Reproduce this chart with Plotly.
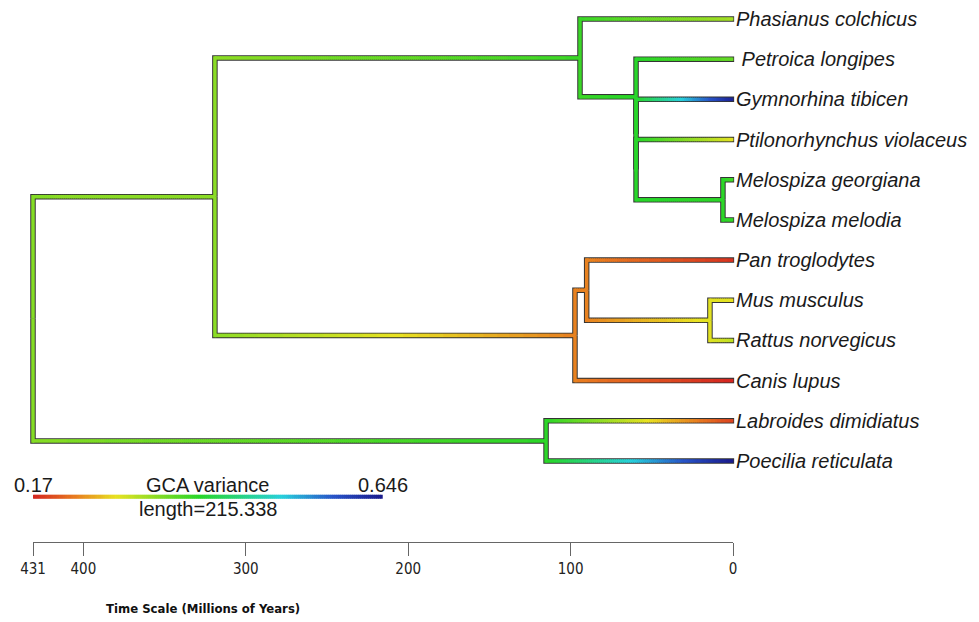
import numpy as np
import plotly.graph_objects as go

# ---------------- data ----------------
tip_labels = ["Phasianus colchicus", "\u00a0Petroica longipes", "Gymnorhina tibicen",
              "Ptilonorhynchus violaceus", "Melospiza georgiana", "Melospiza melodia",
              "Pan troglodytes", "Mus musculus", "Rattus norvegicus", "Canis lupus",
              "Labroides dimidiatus", "Poecilia reticulata"]
tip_gca = [0.322, 0.360, 0.636, 0.285, 0.379, 0.389,
           0.180, 0.284, 0.308, 0.170, 0.189, 0.646]

node_labels = ["root", "amniotes", "birds", "pass1", "pass2", "pass3", "melospiza",
               "mammals", "primates_rodents", "rodents", "fish"]
node_age = [431.0, 319.0, 94.2, 59.7, 59.7, 59.7, 6.2, 97.3, 90.1, 14.2, 115.1]
node_gca = [0.341, 0.337, 0.386, 0.398, 0.398, 0.398, 0.394, 0.230, 0.232, 0.289, 0.394]
node_children = [["amniotes", "fish"],
                 ["birds", "mammals"],
                 ["Phasianus colchicus", "pass1"],
                 ["\u00a0Petroica longipes", "pass2"],
                 ["Gymnorhina tibicen", "pass3"],
                 ["Ptilonorhynchus violaceus", "melospiza"],
                 ["Melospiza georgiana", "Melospiza melodia"],
                 ["primates_rodents", "Canis lupus"],
                 ["Pan troglodytes", "rodents"],
                 ["Mus musculus", "Rattus norvegicus"],
                 ["Labroides dimidiatus", "Poecilia reticulata"]]

gca_limits = [0.17, 0.646]
legend_title = "GCA variance"
legend_length = 215.338
axis_ticks = [431, 400, 300, 200, 100, 0]
axis_title = "Time Scale (Millions of Years)"

# colour ramp (rainbow red -> blue)
ramp_pos = [0.0, 0.12, 0.238, 0.476, 0.714, 0.86, 1.0]
ramp_rgb = [(212, 36, 32), (232, 122, 32), (232, 226, 34), (40, 214, 40),
            (40, 208, 220), (40, 84, 200), (26, 26, 140)]

# ---------------- tree layout ----------------
age = {n: a for n, a in zip(node_labels, node_age)}
gca = {n: v for n, v in zip(node_labels, node_gca)}
kids = {n: c for n, c in zip(node_labels, node_children)}
for t, v in zip(tip_labels, tip_gca):
    age[t] = 0.0
    gca[t] = v

ypos = {}
counter = [0]


def place(n):
    if n not in kids:
        ypos[n] = float(counter[0])
        counter[0] += 1
    else:
        for c in kids[n]:
            place(c)
        ypos[n] = float(np.mean([ypos[c] for c in kids[n]]))


place("root")

edges = [(p, c) for p in node_labels for c in kids[p]]


def ramp(f):
    f = min(max(f, 0.0), 1.0)
    for i in range(len(ramp_pos) - 1):
        if f <= ramp_pos[i + 1]:
            u = (f - ramp_pos[i]) / (ramp_pos[i + 1] - ramp_pos[i])
            a, b = ramp_rgb[i], ramp_rgb[i + 1]
            return "rgb(%d,%d,%d)" % tuple(round(a[k] + (b[k] - a[k]) * u) for k in range(3))
    return "rgb(%d,%d,%d)" % ramp_rgb[-1]


def frac(v):
    return (v - gca_limits[0]) / (gca_limits[1] - gca_limits[0])


NB = 120
px_per_myr = 700 / 431.0
tree_bins = {b: ([], []) for b in range(NB)}
leg_bins = {b: ([], []) for b in range(NB)}


def bin_of(f):
    return min(NB - 1, max(0, int(f * NB)))


ov = 0.25
outline_x, outline_y = [], []
for p, c in edges:
    t0, t1 = age[p], age[c]
    yp, yc = ypos[p], ypos[c]
    v0, v1 = gca[p], gca[c]
    tip_ext = 0.7 if c not in kids else 0.0
    outline_x += [t0, t0, t1 - tip_ext, None]
    outline_y += [yp, yc, yc, None]
    # vertical + corner in parent colour
    b = bin_of(frac(v0))
    tree_bins[b][0].extend([t0, t0, t0 - 0.8, None])
    tree_bins[b][1].extend([yp, yc, yc, None])
    nseg = max(2, int((t0 - t1) * px_per_myr / 2))
    for k in range(nseg):
        ta = t0 - (t0 - t1) * k / nseg
        tb = t0 - (t0 - t1) * (k + 1) / nseg
        vm = v0 + (v1 - v0) * (k + 0.5) / nseg
        b = bin_of(frac(vm))
        tree_bins[b][0].extend([ta + ov, max(tb - ov, t1 - 0.3), None])
        tree_bins[b][1].extend([yc, yc, None])

# legend bar
leg_y = 11.89
leg_x0 = 431.0
leg_x1 = 431.0 - legend_length
nleg = 175
for k in range(nleg):
    ta = leg_x0 - legend_length * k / nleg
    tb = leg_x0 - legend_length * (k + 1) / nleg
    b = bin_of((k + 0.5) / nleg)
    leg_bins[b][0].extend([ta + ov if k > 0 else ta, tb - ov if k < nleg - 1 else tb, None])
    leg_bins[b][1].extend([leg_y, leg_y, None])

fig = go.Figure()
fig.add_trace(go.Scatter(x=outline_x, y=outline_y, mode="lines",
                         line=dict(color="#343434", width=5.5),
                         hoverinfo="skip", showlegend=False))
for b in range(NB):
    xs, ys = tree_bins[b]
    if xs:
        fig.add_trace(go.Scatter(x=xs, y=ys, mode="lines",
                                 line=dict(color=ramp((b + 0.5) / NB), width=3.5),
                                 hoverinfo="skip", showlegend=False))
for b in range(NB):
    xs, ys = leg_bins[b]
    if xs:
        fig.add_trace(go.Scatter(x=xs, y=ys, mode="lines",
                                 line=dict(color=ramp((b + 0.5) / NB), width=4),
                                 hoverinfo="skip", showlegend=False))

# dummy trace for the time axis
fig.add_trace(go.Scatter(x=[431, 0], y=[20, 20], xaxis="x2", yaxis="y", mode="markers",
                         marker=dict(opacity=0), hoverinfo="skip", showlegend=False))

label_font = dict(family="Liberation Sans, Arial, sans-serif", size=20, color="#1a1a1a")
for t in tip_labels:
    fig.add_annotation(x=0, y=ypos[t], text="<i>%s</i>" % t, showarrow=False,
                       xanchor="left", yanchor="middle", xshift=1, font=label_font)

fig.add_annotation(x=leg_x0, y=11.60, text=str(gca_limits[0]), showarrow=False,
                   xanchor="center", yanchor="middle", font=label_font)
fig.add_annotation(x=leg_x1, y=11.60, text=str(gca_limits[1]), showarrow=False,
                   xanchor="center", yanchor="middle", font=label_font)
fig.add_annotation(x=(leg_x0 + leg_x1) / 2, y=11.60, text=legend_title, showarrow=False,
                   xanchor="center", yanchor="middle", font=label_font)
fig.add_annotation(x=(leg_x0 + leg_x1) / 2, y=12.19, text="length=%g" % legend_length,
                   showarrow=False, xanchor="center", yanchor="middle", font=label_font)

narrow = "Liberation Sans Narrow, DejaVu Sans Condensed, Arial, sans-serif"
fig.add_annotation(xref="paper", yref="paper", x=203 / 979, y=1 - 608 / 622,
                   text="<b>%s</b>" % axis_title, showarrow=False,
                   xanchor="center", yanchor="middle",
                   font=dict(family=narrow, size=13, color="#111111"))

fig.update_layout(
    width=979, height=622,
    margin=dict(l=0, r=0, t=0, b=0),
    paper_bgcolor="white", plot_bgcolor="rgba(0,0,0,0)",
    xaxis=dict(range=[431 + 33 / px_per_myr, -(979 - 733) / px_per_myr], visible=False,
               showgrid=False, zeroline=False, automargin=False),
    yaxis=dict(range=[(622 - 19) / 40.18, -19 / 40.18], visible=False,
               showgrid=False, zeroline=False, automargin=False),
    xaxis2=dict(domain=[33 / 979, 733 / 979], range=[431, 0], anchor="free",
                position=1 - 542 / 622, side="bottom", automargin=False,
                showline=True, linecolor="#666666", linewidth=1,
                ticks="outside", ticklen=13, tickcolor="#666666", tickwidth=1,
                tickvals=axis_ticks, ticktext=[str(v) for v in axis_ticks],
                tickfont=dict(family=narrow, size=15, color="#222222"),
                showgrid=False, zeroline=False),
)

fig.write_html("out.html", config={"displayModeBar": False},
               post_script="document.body.style.margin='0px';document.body.style.padding='0px';")
